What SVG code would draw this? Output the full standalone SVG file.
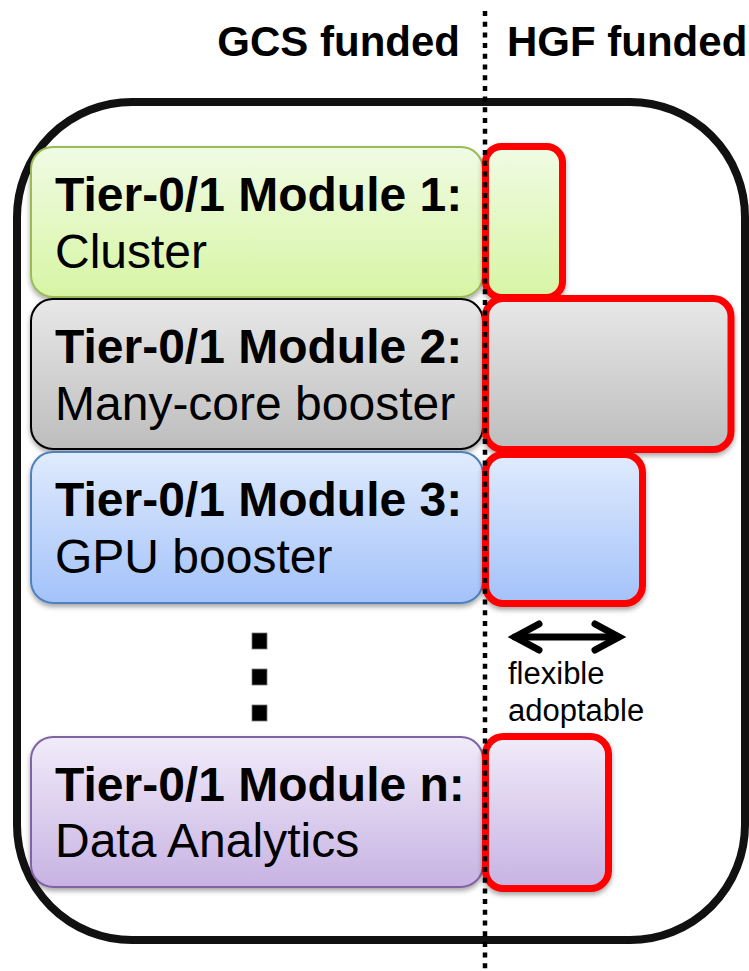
<svg xmlns="http://www.w3.org/2000/svg" width="749" height="971" viewBox="0 0 749 971">
<style>
  text { font-family: "Liberation Sans", Arial, sans-serif; fill: #000; }
  .hdr { font-size: 42px; font-weight: bold; }
  .t { font-size: 48px; font-weight: bold; }
  .s { font-size: 48px; }
  .sm { font-size: 31px; }
  .mod { stroke-width: 2; filter: url(#sh); }
  .red { stroke: #ff0000; stroke-width: 7; filter: url(#sh); }
</style>
<defs>
  <filter id="sh" x="-10%" y="-10%" width="120%" height="130%">
    <feDropShadow dx="0" dy="3" stdDeviation="2.5" flood-color="#000" flood-opacity="0.35"/>
  </filter>
  <linearGradient id="gG" x1="0" y1="0" x2="0" y2="1">
    <stop offset="0" stop-color="#f0fbe4"/><stop offset="1" stop-color="#d7f5a4"/>
  </linearGradient>
  <linearGradient id="gK" x1="0" y1="0" x2="0" y2="1">
    <stop offset="0" stop-color="#e8e8e8"/><stop offset="1" stop-color="#bdbdbd"/>
  </linearGradient>
  <linearGradient id="gB" x1="0" y1="0" x2="0" y2="1">
    <stop offset="0" stop-color="#e0ebfd"/><stop offset="1" stop-color="#a3c2f9"/>
  </linearGradient>
  <linearGradient id="gP" x1="0" y1="0" x2="0" y2="1">
    <stop offset="0" stop-color="#f1ebf9"/><stop offset="1" stop-color="#c7b3e3"/>
  </linearGradient>
</defs>

<g id="headers">
  <text class="hdr" x="460" y="56" text-anchor="end">GCS funded</text>
  <text class="hdr" x="507" y="56">HGF funded</text>
</g>

<g id="outer">
  <rect x="17" y="102" width="728" height="838" rx="115" ry="115" fill="none" stroke="#111" stroke-width="8"/>
</g>

<g id="module1">
  <rect class="mod" x="31" y="147" width="452" height="150" rx="22" fill="url(#gG)" stroke="#9bbb59"/>
  <text class="t" x="55" y="211">Tier-0/1 Module 1:</text>
  <text class="s" x="55" y="268">Cluster</text>
</g>
<g id="module2">
  <rect class="mod" x="31" y="299" width="452" height="150" rx="22" fill="url(#gK)" stroke="#000" stroke-width="1.5"/>
  <text class="t" x="55" y="363">Tier-0/1 Module 2:</text>
  <text class="s" x="55" y="420">Many-core booster</text>
</g>
<g id="module3">
  <rect class="mod" x="31" y="452" width="452" height="151" rx="22" fill="url(#gB)" stroke="#4f81bd"/>
  <text class="t" x="55" y="516">Tier-0/1 Module 3:</text>
  <text class="s" x="55" y="573">GPU booster</text>
</g>
<g id="modulen">
  <rect class="mod" x="31" y="737" width="452" height="150" rx="22" fill="url(#gP)" stroke="#8064a2"/>
  <text class="t" x="55" y="801">Tier-0/1 Module n:</text>
  <text class="s" x="55" y="857">Data Analytics</text>
</g>

<g id="hgf1"><rect class="red" x="485.5" y="146.5" width="77" height="151" rx="16" fill="url(#gG)"/></g>
<g id="hgf2"><rect class="red" x="485.5" y="298.5" width="245.5" height="151" rx="18" fill="url(#gK)"/></g>
<g id="hgf3"><rect class="red" x="485.5" y="454.5" width="157" height="149" rx="18" fill="url(#gB)"/></g>
<g id="hgfn"><rect class="red" x="485.5" y="736.5" width="123" height="152" rx="18" fill="url(#gP)"/></g>

<g id="ellipsis" fill="#000" stroke="#777" stroke-width="0.8">
  <rect x="252" y="633" width="15" height="16"/>
  <rect x="252" y="669" width="15" height="16"/>
  <rect x="252" y="705" width="15" height="16"/>
</g>

<g id="divider">
  <line x1="485" y1="11" x2="485" y2="971" stroke="#000" stroke-width="4.5" stroke-dasharray="5 5.7"/>
</g>

<g id="connectors" fill="none" stroke="#000" stroke-width="7" stroke-linecap="round" stroke-linejoin="miter">
  <line x1="515" y1="637" x2="618" y2="637"/>
  <polyline points="539,624 515,637 539,650"/>
  <polyline points="595,624 619,637 595,650"/>
</g>

<g id="flex-label">
  <text class="sm" x="508" y="684">flexible</text>
  <text class="sm" x="508" y="721">adoptable</text>
</g>
</svg>
